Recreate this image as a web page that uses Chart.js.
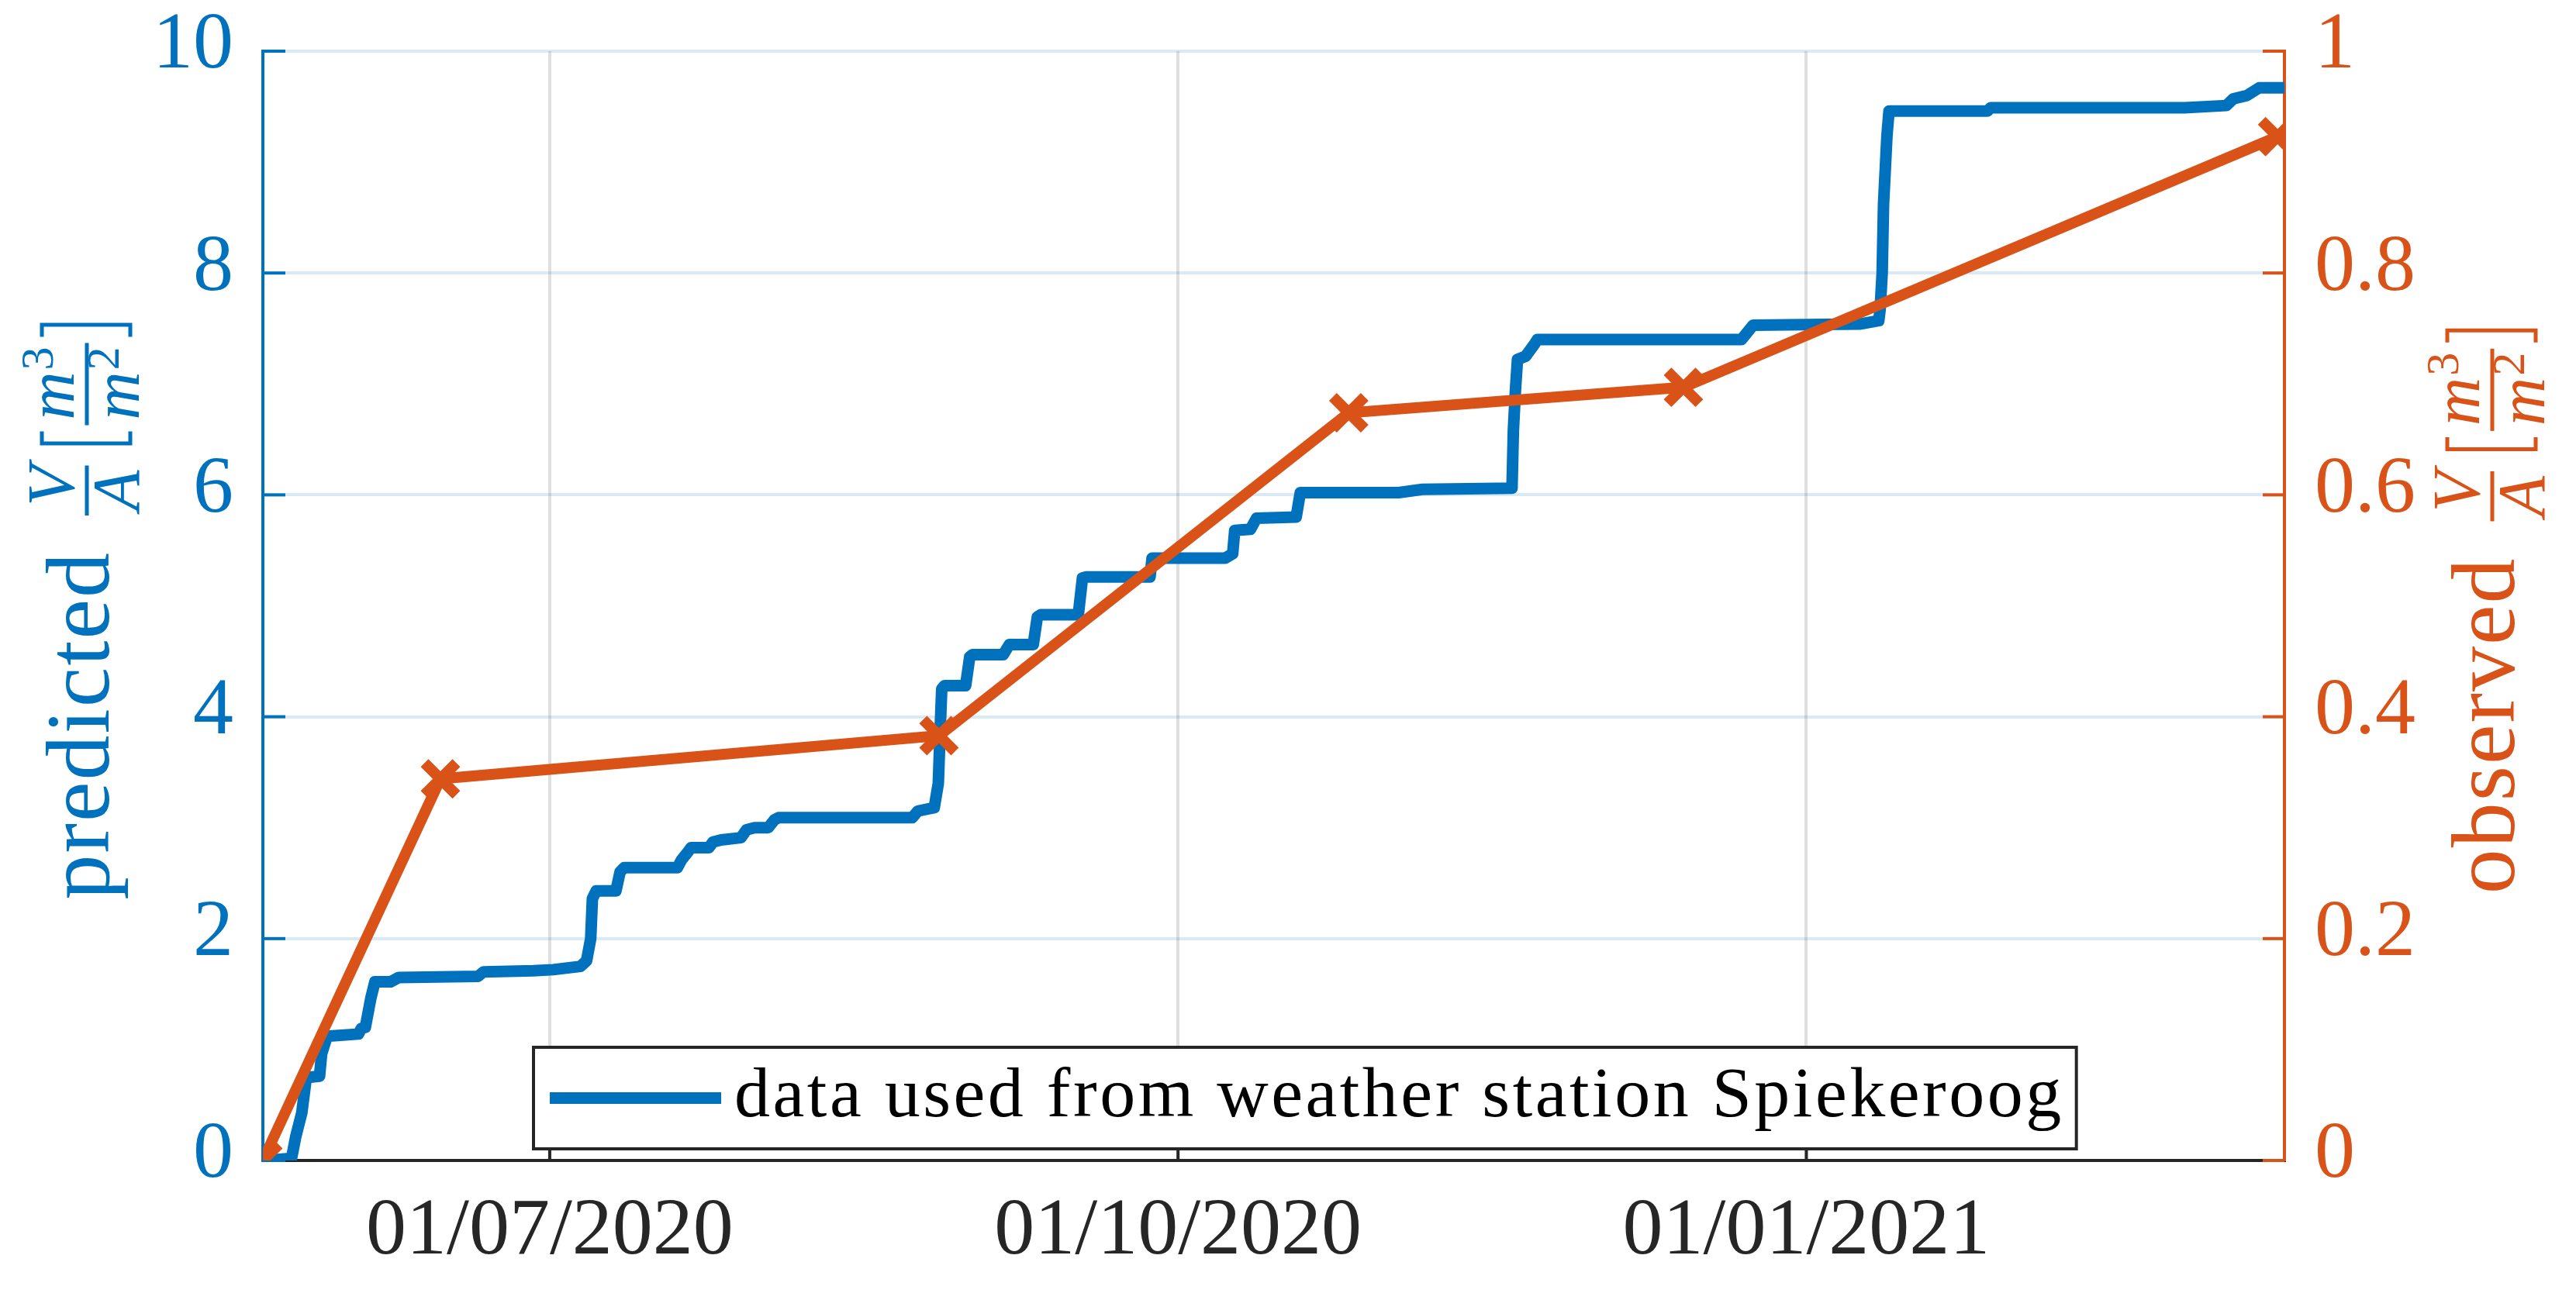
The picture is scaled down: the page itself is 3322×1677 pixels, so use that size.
<!DOCTYPE html>
<html>
<head>
<meta charset="utf-8">
<title>predicted vs observed V/A</title>
<script src="https://cdn.jsdelivr.net/npm/chart.js@4.4.1/dist/chart.umd.min.js"></script>
<style>
  html, body { margin: 0; padding: 0; background: #fff; overflow: hidden; }
  #wrap { width: 3322px; height: 1677px; }
</style>
</head>
<body>
<div id="wrap"><canvas id="chart"></canvas></div>
<script>
// x values are days counted from 01/07/2020
const predDays = [-41.5, -37.8, -37.2, -36.3, -35.7, -35.3, -33.7, -33.4, -32.6, -28.0, -27.6, -27.0, -26.2, -25.6, -23.3, -22.1,
  -10.5, -9.7, -2.4, 0.5, 4.5, 5.4, 6.0, 6.25, 6.8, 9.7, 10.3, 10.9, 18.7, 19.3, 20.1, 20.7, 23.3, 23.9, 25.1, 28.0, 28.8, 30.0,
  32.0, 32.9, 33.5, 53.1, 53.9, 56.3, 56.9, 57.2, 57.4, 57.8, 60.9, 61.5, 61.9, 66.4, 67.3, 70.8, 71.4, 71.9, 77.4, 78.0, 78.5,
  87.9, 88.2, 98.9, 100.0, 100.3, 102.6, 103.5, 109.3, 109.9, 124.3, 127.8, 140.9, 141.1, 141.4, 141.7, 142.9, 144.2, 144.6,
  174.5, 176.2, 191.8, 194.6, 194.8, 195.1, 195.3, 195.8, 196.1, 210.5, 211.0, 239.4, 245.5, 246.5, 248.5, 250.3, 254.6];
const predValues = [0, 0.02, 0.21, 0.43, 0.72, 0.75, 0.76, 0.96, 1.12, 1.14, 1.19, 1.20, 1.46, 1.61, 1.61, 1.65,
  1.66, 1.70, 1.71, 1.72, 1.75, 1.80, 2.0, 2.36, 2.43, 2.43, 2.60, 2.64, 2.64, 2.71, 2.77, 2.82, 2.82, 2.87, 2.89, 2.91, 2.98, 3.0,
  3.0, 3.07, 3.09, 3.09, 3.15, 3.18, 3.40, 3.93, 4.25, 4.28, 4.28, 4.54, 4.56, 4.56, 4.65, 4.65, 4.90, 4.92, 4.92, 5.25, 5.26,
  5.26, 5.43, 5.43, 5.47, 5.68, 5.69, 5.79, 5.80, 6.02, 6.02, 6.05, 6.06, 6.58, 6.94, 7.22, 7.25, 7.36, 7.40,
  7.40, 7.53, 7.54, 7.57, 7.67, 8.0, 8.62, 9.24, 9.46, 9.46, 9.49, 9.49, 9.51, 9.57, 9.60, 9.67, 9.67];

const obsDays = [-42, -16, 57, 117, 166, 253];
const obsValues = [0, 0.344, 0.383, 0.674, 0.697, 0.923];

const xTickDays = [0, 92, 184];
const xTickLabels = ['01/07/2020', '01/10/2020', '01/01/2021'];
const leftTicks = [0, 2, 4, 6, 8, 10];
const rightTicks = [0, 0.2, 0.4, 0.6, 0.8, 1];
const rightTickLabels = ['0', '0.2', '0.4', '0.6', '0.8', '1'];

const legendText = 'data used from weather station Spiekeroog';

const BLUE = '#0072BD';
const ORANGE = '#D95319';
const DARK = '#262626';
const SERIF = '"Liberation Serif", "DejaVu Serif", serif';

// rotated axis title: word, then V/A and [m^3/m^2] as stacked fractions
function drawAxisTitle(ctx, word, baseX, centerY, color) {
  const mainFont = '116px ' + SERIF;
  const fracFont = 'italic 86px ' + SERIF;
  const supFont = '60px ' + SERIF;
  ctx.save();
  ctx.fillStyle = color;
  ctx.strokeStyle = color;
  ctx.translate(baseX, centerY);
  ctx.rotate(-Math.PI / 2);
  ctx.textAlign = 'left';
  ctx.textBaseline = 'alphabetic';

  ctx.font = mainFont;
  ctx.letterSpacing = '2px';
  const wWord = ctx.measureText(word).width;
  ctx.letterSpacing = '0px';
  ctx.font = fracFont;
  const wV = ctx.measureText('V').width;
  const wA = ctx.measureText('A').width;
  const wm = ctx.measureText('m').width;
  ctx.font = supFont;
  const w3 = ctx.measureText('3').width;
  const w2 = ctx.measureText('2').width;

  const bar1 = Math.max(wV, wA) + 12;
  const bar2 = wm + Math.max(w3, w2) + 14;
  const gap1 = 46, gap2 = 26, brW = 18, brGap = 8;
  const total = wWord + gap1 + bar1 + gap2 + brW + brGap + bar2 + brGap + brW;
  let u = -total / 2;

  ctx.font = mainFont;
  ctx.letterSpacing = '2px';
  ctx.fillText(word, u, 0);
  ctx.letterSpacing = '0px';
  u += wWord + gap1;

  ctx.fillRect(u, -30.5, bar1, 5);
  ctx.font = fracFont;
  ctx.fillText('V', u + (bar1 - wV) / 2 + 6, -45);
  ctx.fillText('A', u + (bar1 - wA) / 2, 39);
  u += bar1 + gap2;

  ctx.lineWidth = 5;
  ctx.lineJoin = 'miter';
  ctx.beginPath();
  ctx.moveTo(u + brW, -86);
  ctx.lineTo(u + 2.5, -86);
  ctx.lineTo(u + 2.5, 28);
  ctx.lineTo(u + brW, 28);
  ctx.stroke();
  u += brW + brGap;

  ctx.fillRect(u, -30.5, bar2, 5);
  const numX = u + (bar2 - wm - w3) / 2;
  const denX = u + (bar2 - wm - w2) / 2;
  ctx.font = fracFont;
  ctx.fillText('m', numX, -45);
  ctx.fillText('m', denX, 39);
  ctx.font = supFont;
  ctx.fillText('3', numX + wm + 2, -72);
  ctx.fillText('2', denX + wm + 2, 13);
  u += bar2 + brGap;

  ctx.beginPath();
  ctx.moveTo(u, -86);
  ctx.lineTo(u + brW - 2.5, -86);
  ctx.lineTo(u + brW - 2.5, 28);
  ctx.lineTo(u, 28);
  ctx.stroke();
  ctx.restore();
}

const axisTitles = {
  id: 'axisTitles',
  afterDraw(chart) {
    const { ctx, chartArea: a } = chart;
    const cy = (a.top + a.bottom) / 2 + 7;
    drawAxisTitle(ctx, 'predicted', a.left - 199, cy, BLUE);
    drawAxisTitle(ctx, 'observed', a.right + 296, cy, ORANGE);
  }
};

// MATLAB style inward tick marks
const innerTicks = {
  id: 'innerTicks',
  beforeDatasetsDraw(chart) {
    const { ctx, chartArea: a, scales } = chart;
    ctx.save();
    ctx.lineWidth = 4;
    const seg = (x1, y1, x2, y2) => { ctx.beginPath(); ctx.moveTo(x1, y1); ctx.lineTo(x2, y2); ctx.stroke(); };
    ctx.strokeStyle = BLUE;
    scales.y.ticks.forEach(t => { const p = scales.y.getPixelForValue(t.value); seg(a.left, p, a.left + 29, p); });
    ctx.strokeStyle = ORANGE;
    scales.y1.ticks.forEach(t => { const p = scales.y1.getPixelForValue(t.value); seg(a.right - 28, p, a.right, p); });
    ctx.strokeStyle = DARK;
    scales.x.ticks.forEach(t => { const p = scales.x.getPixelForValue(t.value); seg(p, a.bottom, p, a.bottom - 29); });
    ctx.restore();
  }
};

// boxed legend inside the axes, only the predicted series
const boxLegend = {
  id: 'boxLegend',
  afterDatasetsDraw(chart) {
    const { ctx, chartArea: a } = chart;
    const ds = chart.data.datasets.find(d => d.showInLegend);
    ctx.save();
    ctx.font = '92px ' + SERIF;
    ctx.letterSpacing = '3.5px';
    const tw = ctx.measureText(ds.label).width;
    const left = a.left + 349;
    const bottom = a.bottom - 15;
    const h = 131;
    const w = tw + 275;
    ctx.fillStyle = '#fff';
    ctx.fillRect(left, bottom - h, w, h);
    ctx.lineWidth = 4;
    ctx.strokeStyle = DARK;
    ctx.strokeRect(left, bottom - h, w, h);
    ctx.strokeStyle = ds.borderColor;
    ctx.lineWidth = ds.borderWidth;
    ctx.beginPath();
    ctx.moveTo(left + 21, bottom - h / 2);
    ctx.lineTo(left + 242, bottom - h / 2);
    ctx.stroke();
    ctx.fillStyle = '#000';
    ctx.textBaseline = 'alphabetic';
    ctx.fillText(ds.label, left + 259, bottom - 42);
    ctx.restore();
  }
};

const noEdgePadding = s => { s.paddingTop = 0; s.paddingBottom = 0; s.paddingLeft = 0; s.paddingRight = 0; };

const ctx = document.getElementById('chart');
new Chart(ctx, {
  type: 'line',
  data: {
    datasets: [
      {
        label: 'observed',
        data: obsDays.map((d, i) => ({ x: d, y: obsValues[i] })),
        yAxisID: 'y1',
        borderColor: ORANGE,
        backgroundColor: ORANGE,
        borderWidth: 14,
        pointStyle: 'crossRot',
        pointRadius: 29,
        pointBorderWidth: 14,
        pointBorderColor: ORANGE,
        tension: 0,
        order: 0
      },
      {
        label: legendText,
        showInLegend: true,
        data: predDays.map((d, i) => ({ x: d, y: predValues[i] })),
        yAxisID: 'y',
        borderColor: BLUE,
        backgroundColor: BLUE,
        borderWidth: 15,
        borderJoinStyle: 'round',
        pointRadius: 0,
        tension: 0,
        order: 1
      }
    ]
  },
  options: {
    responsive: true,
    maintainAspectRatio: false,
    animation: false,
    layout: { padding: { top: 66, left: 0, right: 0, bottom: 0 } },
    plugins: {
      legend: { display: false },
      tooltip: { enabled: false }
    },
    scales: {
      x: {
        type: 'linear',
        min: -42,
        max: 254,
        afterBuildTicks: s => { s.ticks = xTickDays.map(v => ({ value: v })); },
        afterFit: s => { s.height = 180; noEdgePadding(s); },
        ticks: {
          color: DARK,
          font: { family: SERIF, size: 104 },
          padding: 30,
          maxRotation: 0,
          callback: v => xTickLabels[xTickDays.indexOf(v)]
        },
        grid: { color: 'rgba(38,38,38,0.15)', lineWidth: 4, drawTicks: false },
        border: { color: DARK, width: 4 }
      },
      y: {
        position: 'left',
        min: 0,
        max: 10,
        afterBuildTicks: s => { s.ticks = leftTicks.map(v => ({ value: v })); },
        afterFit: s => { s.width = 339; noEdgePadding(s); },
        ticks: {
          color: BLUE,
          font: { family: SERIF, size: 104 },
          padding: 38,
          labelOffset: -6,
          callback: v => String(v)
        },
        grid: { color: 'rgba(0,114,189,0.15)', lineWidth: 4, drawTicks: false },
        border: { color: BLUE, width: 4 }
      },
      y1: {
        position: 'right',
        min: 0,
        max: 1,
        afterBuildTicks: s => { s.ticks = rightTicks.map(v => ({ value: v })); },
        afterFit: s => { s.width = 376; noEdgePadding(s); },
        ticks: {
          color: ORANGE,
          font: { family: SERIF, size: 104 },
          padding: 39,
          labelOffset: -6,
          callback: (v, i) => rightTickLabels[i]
        },
        grid: { display: false, drawTicks: false },
        border: { color: ORANGE, width: 4 }
      }
    }
  },
  plugins: [innerTicks, boxLegend, axisTitles]
});
</script>
</body>
</html>
